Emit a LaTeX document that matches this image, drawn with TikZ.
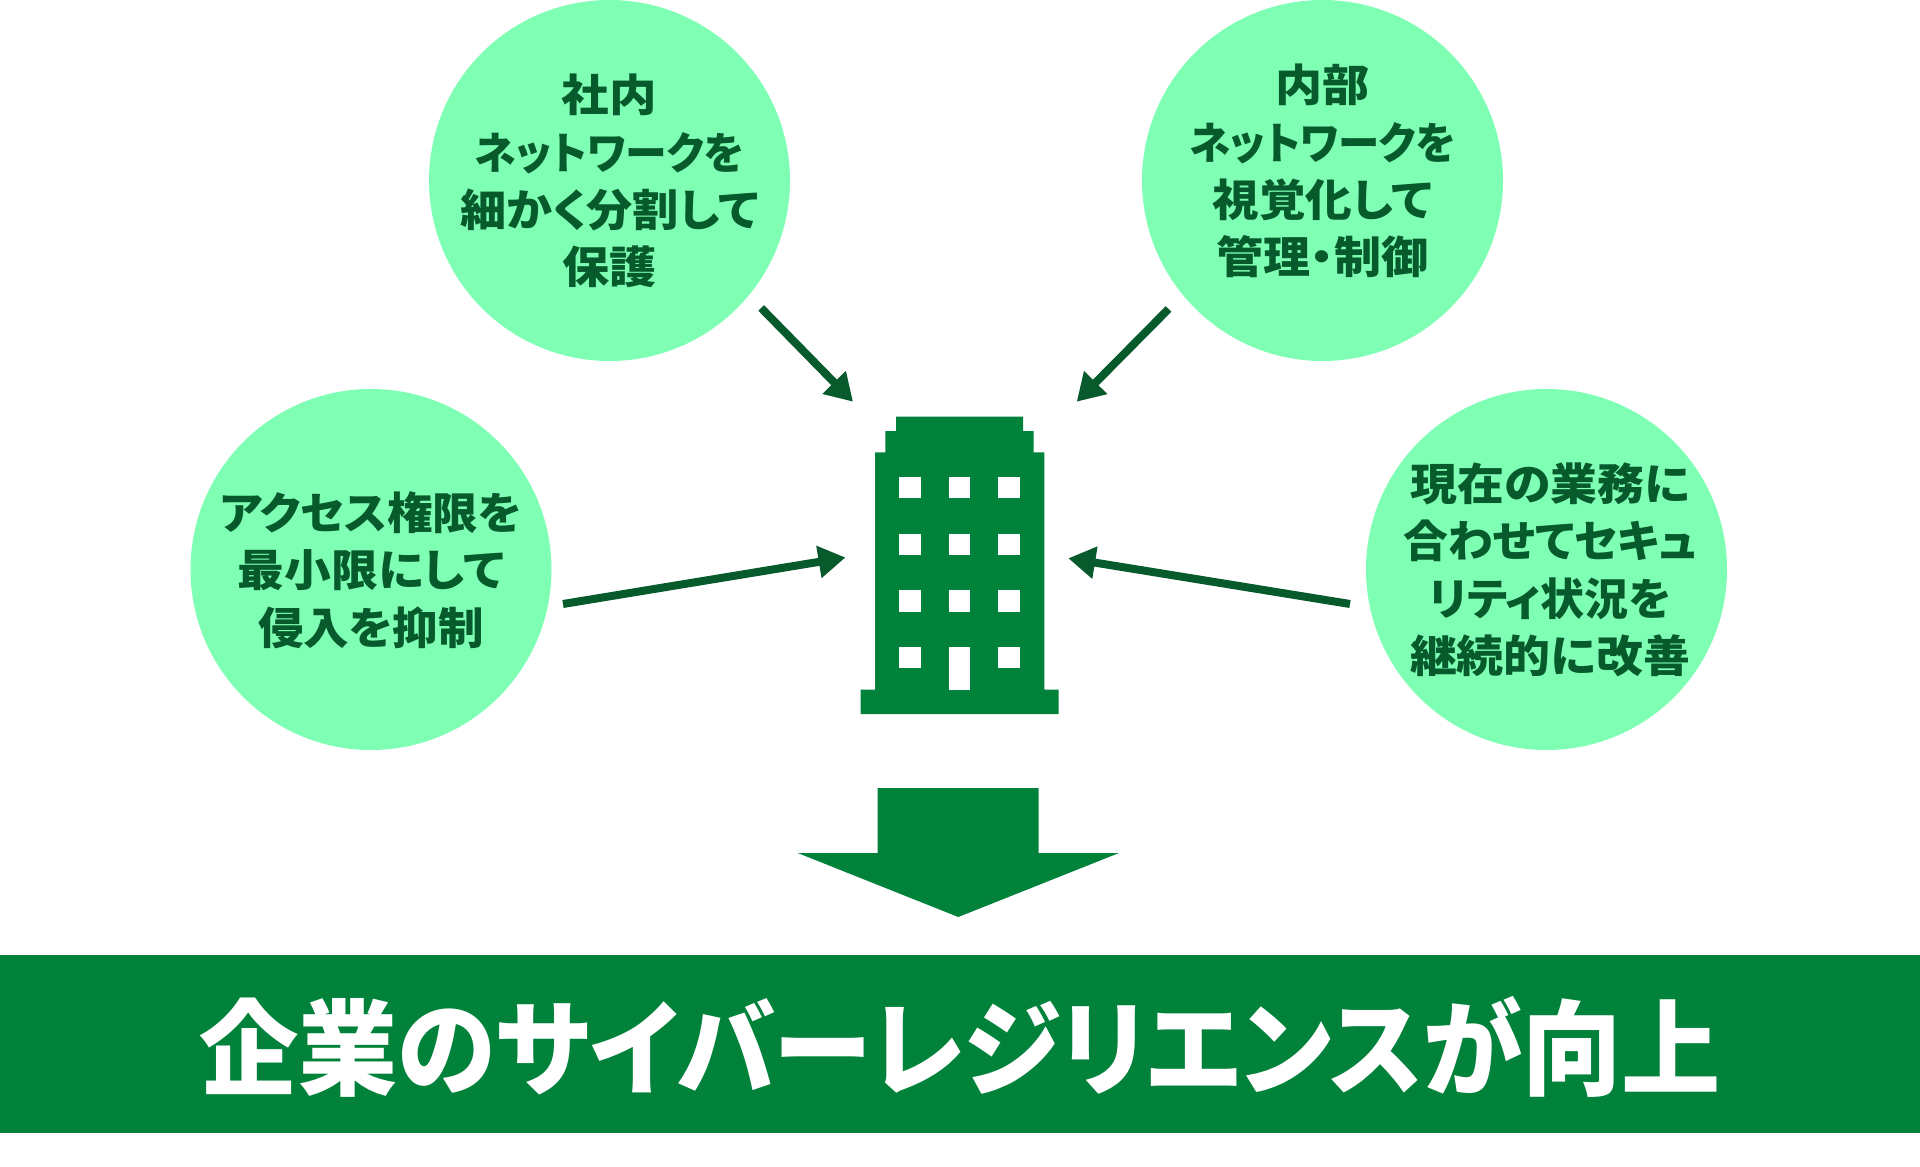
\documentclass[tikz,border=0pt]{standalone}
\usepackage{fontspec}
\setmainfont{Noto Sans CJK JP}[BoldFont={Noto Sans CJK JP Black},RawFeature=+palt]
\usetikzlibrary{arrows.meta}
\definecolor{bandgreen}{HTML}{00823B}
\definecolor{darkgreen}{HTML}{065A2B}
\definecolor{mint}{HTML}{7FFFB4}
\newcommand{\sqz}[2]{\scalebox{#1}[1]{#2}}
\tikzset{
  x=1pt,y=-1pt,
  bubble/.style={circle,fill=mint,minimum size=361pt,inner sep=0pt},
  bubbletext/.style={align=center,inner sep=0pt,text=darkgreen,font=\fontsize{44}{57.3}\selectfont\bfseries},
  link/.style={draw=darkgreen,line width=8pt,-{Triangle[length=27pt,width=31pt]}},
  solid green/.style={fill=bandgreen,draw=none},
  hole/.style={fill=white,draw=none}
}
\begin{document}
\begin{tikzpicture}
\useasboundingbox (0,0) rectangle (1920,1167);
\node[bubble] (a) at (609.5,180.5) {};
\node[bubble] (b) at (1322.5,180.5) {};
\node[bubble] (c) at (371,569.5) {};
\node[bubble] (d) at (1546.5,569.5) {};
\node[bubbletext] (ta) at (609.5,181) {\sqz{1.08}{社内}\\\sqz{.95}{ネットワークを}\\\sqz{1.05}{細かく分割して}\\\sqz{1.07}{保護}};
\node[bubbletext] (tb) at (1322.5,171) {\sqz{1.07}{内部}\\\sqz{.94}{ネットワークを}\\\sqz{1.06}{視覚化して}\\\sqz{1.07}{管理・制御}};
\node[bubbletext] (tc) at (371,570) {\sqz{1.035}{アクセス権限を}\\\sqz{1.065}{最小限にして}\\\sqz{1.035}{侵入を抑制}};
\node[bubbletext] (td) at (1550,570) {\sqz{1.066}{現在の業務に}\\\sqz{1.02}{合わせてセキュ}\\リティ状況を\\\sqz{1.066}{継続的に改善}};
% building
\fill[solid green] (896,416.7) -- (1023,416.7) -- (1023,431) -- (1033.7,431) -- (1033.7,452.3) -- (1044.3,452.3) -- (1044.3,689.7) -- (1058.7,689.7) -- (1058.7,714) -- (860.7,714) -- (860.7,689.7) -- (875,689.7) -- (875,452.3) -- (885.3,452.3) -- (885.3,431) -- (896,431) -- cycle;
\foreach \wy in {477,533.7,590.3,647}{
  \foreach \wx in {899.3,998.3}{
    \fill[hole] (\wx,\wy) rectangle ++(21.4,21.3);
  }
}
\foreach \wy in {477,533.7,590.3}{\fill[hole] (949,\wy) rectangle ++(21.3,21.3);}
\fill[hole] (949,647) rectangle (970.3,689.7);
\coordinate (bldgA) at (853,401.7);
\coordinate (bldgB) at (1076.7,401.7);
\coordinate (bldgC) at (845.5,557.5);
\coordinate (bldgD) at (1068.3,558.3);
\coordinate (fromA) at (761.2,308);
\coordinate (fromB) at (1168.5,309);
\coordinate (fromC) at (563,604);
\coordinate (fromD) at (1350,604);
\draw[link] (fromA) -- (bldgA);
\draw[link] (fromB) -- (bldgB);
\draw[link] (fromC) -- (bldgC);
\draw[link] (fromD) -- (bldgD);
% big arrow
\fill[solid green] (877.7,788) -- (1038.7,788) -- (1038.7,853) -- (1119,853) -- (958.3,917) -- (797.7,853) -- (877.7,853) -- cycle;
% band
\node[fill=bandgreen,minimum width=1920pt,minimum height=177.6pt,inner sep=0pt] (band) at (960,1043.8) {};
\node[inner sep=0pt,text=white,font=\fontsize{104}{110}\selectfont\bfseries] (title) at (960,1047) {\sqz{.954}{企業のサイバーレジリエンスが向上}};
\end{tikzpicture}
\end{document}
